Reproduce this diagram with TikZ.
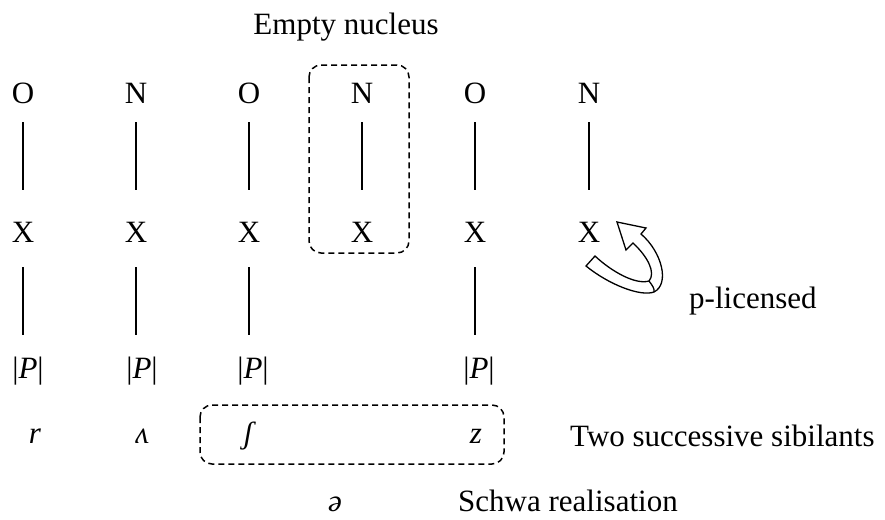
\documentclass[tikz,border=0pt]{standalone}
\usepackage{fontspec}
\setmainfont{Liberation Serif}
\begin{document}
\begin{tikzpicture}[x=1pt,y=-1pt,
  every node/.style={inner sep=0pt, font=\fontsize{31}{36}\selectfont, text height=20pt, text depth=0pt, anchor=base},
  link/.style={line width=1.7pt},
  upper/.style={link, shorten <=19pt, shorten >=32pt},
  lower/.style={link, shorten <=25pt, shorten >=23pt},
  dbox/.style={draw, line width=1.5pt, dash pattern=on 6pt off 4pt, rounded corners=12pt},
  lbl/.style={anchor=base west}]
\useasboundingbox (0,0) rectangle (885,519);

\node (title) at (346,35) {Empty nucleus};

% skeleton rows
\foreach \i/\x/\t in {1/23/O,2/136/N,3/249/O,4/362/N,5/475/O,6/589/N}{
  \node (c\i) at (\x,103) {\t};
  \node (x\i) at (\x,242) {X};
}
\node (p1) at (28,378) {|\textit{P}|};
\node (p2) at (142,378) {|\textit{P}|};
\node (p3) at (253,378) {|\textit{P}|};
\node (p5) at (479,378) {|\textit{P}|};

\foreach \i in {1,...,6}{ \draw[upper] (c\i.south) -- (x\i.north); }
\foreach \i in {1,2,3,5}{ \draw[lower] (x\i.south) -- (x\i.south |- p\i.north); }

% phonetic row
\node (r) at (35,443) {\textit{r}};
\node (v) at (142,443) {\textit{ʌ}};
\node (sh) at (250,443) {\textit{ʃ}};
\node (z) at (476,443) {\textit{z}};
\node (schwa) at (335,511) {\textit{ə}};

\node[lbl] (two) at (570,446) {Two successive sibilants};
\node[lbl] (schwalbl) at (458,511) {Schwa realisation};
\node[lbl] (plic) at (689,308) {p-licensed};

% dashed boxes
\draw[dbox] (309,65) rectangle (409,253);
\draw[dbox] (200,405) rectangle (504,464);

% hollow curved arrow
\draw[line width=1.3pt, fill=white, line join=miter]
  (586,266) .. controls (608,284) and (640,297) .. (654,292)
  .. controls (670,284) and (662,252) .. (641,234)
  -- (646,228) -- (617,222) -- (626,250) -- (633,243)
  .. controls (648,257) and (656,273) .. (649,281)
  .. controls (636,285) and (612,272) .. (595,256) -- cycle;
\draw[line width=1.3pt] (649,281) .. controls (652,285) and (655,289) .. (654,292);
\end{tikzpicture}
\end{document}
